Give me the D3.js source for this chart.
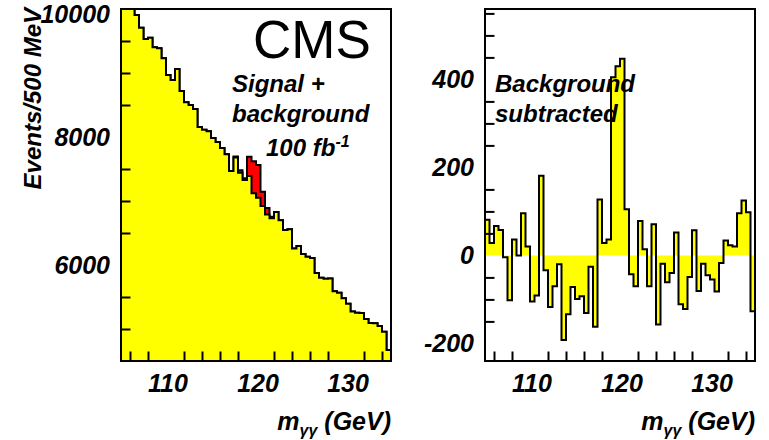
<!DOCTYPE html>
<html>
<head>
<meta charset="utf-8">
<script src="https://cdn.jsdelivr.net/npm/d3@7"></script>
<style>
  body { margin: 0; background: #fff; }
  text { font-family: "Liberation Sans", Arial, Helvetica, sans-serif; }
</style>
</head>
<body>
<svg id="chart" width="769" height="440"></svg>
<script>
// Diphoton invariant mass, 500 MeV bins from 105 to 135 GeV
const massRange = [105, 135];
const binWidth = 0.5;

// Expected background per bin (events / 500 MeV)
const background = [
  10100, 10050, 10010, 9906, 9708, 9531, 9552, 9401, 9385, 9229,
  8969, 8891, 9063, 8719, 8542, 8500, 8438, 8156, 8115, 8090,
  7985, 7920, 7830, 7730, 7469, 7680, 7440, 7330, 7390, 7120,
  7050, 6920, 6790, 6730, 6830, 6700, 6547, 6557, 6258, 6297,
  6170, 6130, 6110, 5875, 5800, 5785, 5790, 5590, 5565, 5479,
  5395, 5275, 5255, 5250, 5155, 5095, 5090, 5045, 4958, 4672
];
// Higgs signal per bin, stacked on the background
const signal = [
  0, 0, 0, 0, 0, 0, 0, 0, 0, 0,
  0, 0, 0, 0, 0, 0, 0, 0, 0, 0,
  0, 0, 0, 0, 0, 15, 40, 25, 300, 500,
  513, 226, 100, 25, 0, 0, 0, 0, 0, 0,
  0, 0, 0, 0, 0, 0, 0, 0, 0, 0,
  0, 0, 0, 0, 0, 0, 0, 0, 0, 0
];
// Data minus fitted background per bin
const subtracted = [
  81, 28, 67, 58, -4, -102, 36, 0, 96, 20,
  -105, -91, 181, -34, -117, -70, -20, -192, -134, -72,
  -99, -93, -131, -26, -162, 127, 28, 36, 405, 430,
  447, 105, -43, -70, 78, 14, -70, 71, -157, -19,
  -61, -40, 52, -111, -122, -49, 57, -81, -19, -45,
  -55, -82, -17, 34, 23, 20, 96, 125, 98, -127
];

const xMajorTicks = [110, 120, 130];
const xMinorTicks = [106, 108, 112, 114, 116, 118, 122, 124, 126, 128, 132, 134];
const leftYMajor = [6000, 8000, 10000];
const leftYMinor = [5000, 5500, 6500, 7000, 7500, 8500, 9000, 9500];
const leftYRange = [4500, 10000];
const rightYMajor = [-200, 0, 200, 400];
const rightYMinor = [-150, -100, -50, 50, 100, 150, 250, 300, 350, 450, 500, 550];
const rightYRange = [-240, 560];

const svg = d3.select("#chart");
const YELLOW = "#ffff00", RED = "#ff0000";
const LW = 2;
const TICK_MAJOR = 19, TICK_MINOR = 9.5;
const labelFont = "bold italic 25px 'Liberation Sans', Arial, sans-serif";

// step-shaped series: one point per bin low edge, plus the closing edge
function stepPoints(vals) {
  const pts = vals.map((v, i) => ({ e: massRange[0] + i * binWidth, v }));
  pts.push({ e: massRange[1], v: vals[vals.length - 1] });
  return pts;
}

function panel(box, yDomain, yMajor, yMinor, yFmt) {
  const g = svg.append("g");
  const x = d3.scaleLinear().domain(massRange).range([box.x0, box.x1]);
  const y = d3.scaleLinear().domain(yDomain).range([box.y1, box.y0]).clamp(true);
  const clipId = "clip" + box.x0;
  svg.append("clipPath").attr("id", clipId)
    .append("rect").attr("x", box.x0).attr("y", box.y0)
    .attr("width", box.x1 - box.x0).attr("height", box.y1 - box.y0);
  const plot = g.append("g").attr("clip-path", `url(#${clipId})`);
  return { g, plot, x, y, box, yMajor, yMinor, yFmt };
}

function finishPanel(p) {
  const { g, x, y, box } = p;
  // ticks pointing into the frame
  const axB = g.append("g").attr("transform", `translate(0,${box.y1})`);
  axB.call(d3.axisBottom(x).tickValues(xMajorTicks).tickSize(-TICK_MAJOR).tickFormat(""));
  axB.call(d3.axisBottom(x).tickValues(xMinorTicks).tickSize(-TICK_MINOR).tickFormat(""));
  const axL = g.append("g").attr("transform", `translate(${box.x0},0)`);
  axL.call(d3.axisLeft(y).tickValues(p.yMajor).tickSize(-TICK_MAJOR).tickFormat(""));
  axL.call(d3.axisLeft(y).tickValues(p.yMinor).tickSize(-TICK_MINOR).tickFormat(""));
  g.selectAll(".domain").remove();
  g.selectAll(".tick line").attr("stroke", "#000").attr("stroke-width", LW);

  // frame
  g.append("rect").attr("x", box.x0).attr("y", box.y0)
    .attr("width", box.x1 - box.x0).attr("height", box.y1 - box.y0)
    .attr("fill", "none").attr("stroke", "#000").attr("stroke-width", LW);

  // tick labels
  g.selectAll(".xl").data(xMajorTicks).enter().append("text")
    .attr("x", d => x(d) + 2).attr("y", 392)
    .attr("text-anchor", "middle").style("font", labelFont)
    .text(d => d);
  g.selectAll(".yl").data(p.yMajor).enter().append("text")
    .attr("x", box.x0 - 11).attr("y", d => Math.max(y(d) + 9, 23))
    .attr("text-anchor", "end").style("font", labelFont)
    .text(p.yFmt);

  // x title: m_γγ (GeV)
  const t = g.append("text").attr("x", box.x1).attr("y", 430)
    .attr("text-anchor", "end").style("font", labelFont);
  t.append("tspan").text("m");
  t.append("tspan").attr("dy", 6).style("font-size", "16px").text("γγ");
  t.append("tspan").attr("dy", -6).text(" (GeV)");
}

// ---------- left: signal + background ----------
const left = panel({ x0: 121, x1: 391, y0: 9, y1: 361 }, leftYRange, leftYMajor, leftYMinor, d => d);
{
  const { plot, x, y, box } = left;
  const total = background.map((b, i) => b + signal[i]);
  const area = d3.area().curve(d3.curveStepAfter)
    .x(d => x(d.e)).y0(box.y1).y1(d => y(d.v));
  const line = d3.line().curve(d3.curveStepAfter)
    .x(d => x(d.e)).y(d => y(d.v));
  plot.append("path").datum(stepPoints(total)).attr("d", area).attr("fill", RED);
  plot.append("path").datum(stepPoints(total)).attr("d", line)
    .attr("fill", "none").attr("stroke", "#000").attr("stroke-width", LW);
  plot.append("path").datum(stepPoints(background)).attr("d", area).attr("fill", YELLOW);
  plot.append("path").datum(stepPoints(background)).attr("d", line)
    .attr("fill", "none").attr("stroke", "#000").attr("stroke-width", LW);
}
finishPanel(left);

// y title
svg.append("text")
  .attr("transform", "translate(41,8) rotate(-90)")
  .attr("text-anchor", "end").style("font", "bold italic 24px 'Liberation Sans', Arial, sans-serif")
  .text("Events/500 MeV");

// annotations
svg.append("text").attr("x", 253).attr("y", 58)
  .style("font", "53px 'Liberation Sans', Arial, sans-serif").text("CMS");
const annFont = "bold italic 24px 'Liberation Sans', Arial, sans-serif";
svg.append("text").attr("x", 232).attr("y", 92).style("font", annFont).text("Signal +");
svg.append("text").attr("x", 232).attr("y", 122).style("font", annFont).text("background");
{
  const t = svg.append("text").attr("x", 266).attr("y", 156).style("font", annFont);
  t.append("tspan").text("100 fb");
  t.append("tspan").attr("dy", -9).style("font-size", "16px").text("-1");
}

// ---------- right: background subtracted ----------
const right = panel({ x0: 485, x1: 755, y0: 9, y1: 361 }, rightYRange, rightYMajor, rightYMinor, d => d);
{
  const { plot, x, y } = right;
  const area = d3.area().curve(d3.curveStepAfter)
    .x(d => x(d.e)).y0(y(0)).y1(d => y(d.v));
  const line = d3.line().curve(d3.curveStepAfter)
    .x(d => x(d.e)).y(d => y(d.v));
  plot.append("path").datum(stepPoints(subtracted)).attr("d", area).attr("fill", YELLOW);
  plot.append("path").datum(stepPoints(subtracted)).attr("d", line)
    .attr("fill", "none").attr("stroke", "#000").attr("stroke-width", LW);
}
finishPanel(right);

svg.append("text").attr("x", 495).attr("y", 92).style("font", annFont).text("Background");
svg.append("text").attr("x", 495).attr("y", 122).style("font", annFont).text("subtracted");
</script>
</body>
</html>
